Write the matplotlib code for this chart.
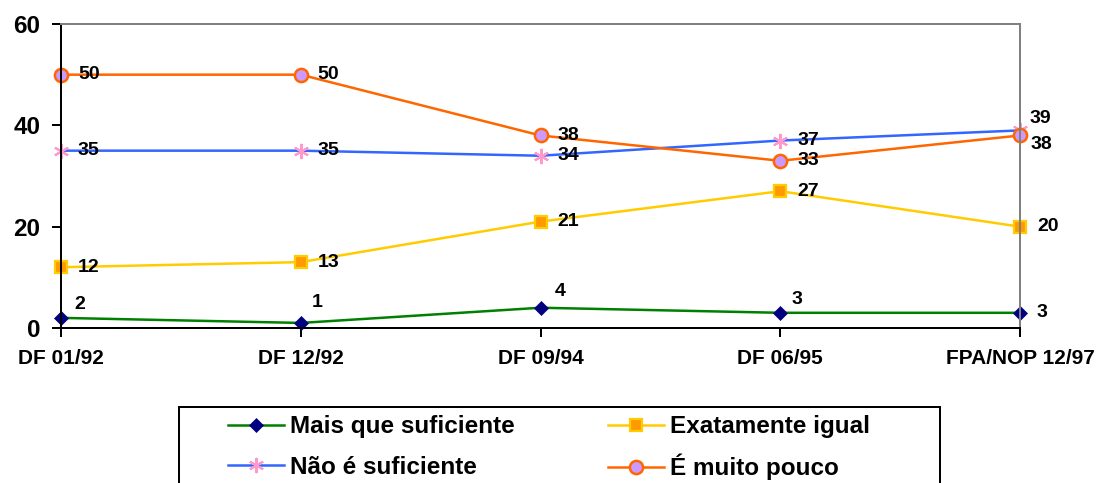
import numpy as np
import matplotlib.pyplot as plt
from matplotlib.patches import Rectangle

# data
categories = ['DF 01/92', 'DF 12/92', 'DF 09/94', 'DF 06/95', 'FPA/NOP 12/97']
mais_que = [2, 1, 4, 3, 3]
exatamente = [12, 13, 21, 27, 20]
nao_suficiente = [35, 35, 34, 37, 39]
muito_pouco = [50, 50, 38, 33, 38]

names = ['Mais que suficiente', 'Exatamente igual', 'Não é suficiente', 'É muito pouco']

plt.rcParams['font.family'] = ['Liberation Sans', 'DejaVu Sans']
plt.rcParams['font.weight'] = 'bold'

px = 72 / 100  # one pixel in points
W, H = 1097, 483

fig = plt.figure(figsize=(10.97, 4.83), dpi=100)
ax = fig.add_axes([61 / W, 1 - 328 / H, (1020 - 61) / W, (328 - 24) / H])

x = np.arange(len(categories))

# line styles per series
styles = [
    dict(color='#008000', marker='D', ms=7.5, mfc='#000080', mec='#000080', mew=0.5),
    dict(color='#FFCC00', marker='s', ms=9, mfc='#FF9900', mec='#FFCC00', mew=1.6),
    dict(color='#3366FF', marker=(6, 2, 0), ms=11, mfc='#FF99CC', mec='#FF99CC', mew=1.5),
    dict(color='#FF6600', marker='o', ms=9.5, mfc='#CC99FF', mec='#FF6600', mew=1.8),
]
series = [mais_que, exatamente, nao_suficiente, muito_pouco]

handles = []
for vals, name, st in zip(series, names, styles):
    h, = ax.plot(x, vals, lw=1.8, label=name, clip_on=False, **st)
    handles.append(h)

# label offsets in pixels (dx, dy); default is to the right
default_off = (17, 0)
offsets = {
    (0, 0): (13, 13), (0, 1): (11, 20), (0, 2): (14, 16), (0, 3): (11, 13),
    (2, 4): (10, 12), (3, 4): (11, -9),
}
for si, vals in enumerate(series):
    for i, v in enumerate(vals):
        dx, dy = offsets.get((si, i), default_off)
        ax.annotate(str(v), (x[i], v), xytext=(dx * px, dy * px),
                    textcoords='offset points', ha='left', va='center',
                    fontsize=14, fontweight='bold', annotation_clip=False)

ax.set_xlim(0, 4)
ax.set_ylim(0, 60)
ax.set_xticks(x)
ax.set_xticklabels(categories)
ax.set_yticks([0, 20, 40, 60])

for side in ['left', 'bottom']:
    ax.spines[side].set_color('black')
    ax.spines[side].set_linewidth(2 * px)
for side in ['top', 'right']:
    ax.spines[side].set_color('#808080')
    ax.spines[side].set_linewidth(2 * px)

ax.tick_params(axis='both', direction='out', length=9 * px, width=2 * px, pad=8.5)
ax.tick_params(axis='y', labelsize=17.5)
ax.tick_params(axis='x', labelsize=15)
for lbl in ax.get_xticklabels() + ax.get_yticklabels():
    lbl.set_fontweight('bold')

# one legend per entry so the two rows line up across columns
leg_pos = [(228, 427), (608, 427), (228, 467), (608, 467)]
for h, (lx, ly) in zip(handles, leg_pos):
    leg = fig.legend(handles=[h], loc='center left', frameon=False,
                     bbox_to_anchor=(lx / W, 1 - ly / H),
                     borderpad=0, borderaxespad=0, handlelength=2.3,
                     handletextpad=0.25, prop=dict(size=17.5, weight='bold'))

# legend box, runs off the bottom of the figure
fig.add_artist(Rectangle((179 / W, -10 / H), (940 - 179) / W, (H - 407 + 10) / H,
                         transform=fig.transFigure, fill=False, edgecolor='black',
                         linewidth=2 * px))

fig.savefig('out.png', dpi=100)
